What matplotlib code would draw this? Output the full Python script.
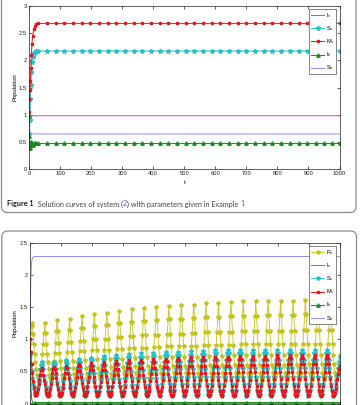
import numpy as np
import matplotlib

matplotlib.use("Agg")
import matplotlib.pyplot as plt
from matplotlib.patches import FancyBboxPatch
from matplotlib.ticker import FormatStrFormatter, MultipleLocator

plt.rcParams["font.family"] = ["Liberation Sans", "DejaVu Sans"]
plt.rcParams["mathtext.default"] = "regular"

# ---------------- Figure 1: solution converges to equilibrium ----------------
t_top_early = [0, 1.5, 3, 4.5, 6, 7.5, 9.5, 12, 15, 19, 24, 30]
t_top_late = [58, 86, 114, 142, 170, 198, 226, 253, 281, 309, 337, 365, 393,
              421, 449, 477, 505, 533, 561, 588, 616, 644, 672, 700, 728, 756,
              784, 812, 840, 868, 896, 923, 951, 976, 1000]

iv_early = [0.80, 0.86, 0.90, 0.93, 0.95, 0.96, 0.97, 0.975, 0.98, 0.98, 0.98, 0.98]
sv_early = [0.42, 0.65, 0.90, 1.28, 1.55, 1.78, 1.97, 2.07, 2.13, 2.16, 2.17, 2.17]
ms_early = [1.05, 1.28, 1.45, 1.62, 1.85, 2.10, 2.30, 2.45, 2.57, 2.64, 2.67, 2.68]
ih_early = [0.97, 0.60, 0.38, 0.42, 0.50, 0.49, 0.46, 0.45, 0.47, 0.48, 0.47, 0.47]
sh_early = [0.80, 0.74, 0.70, 0.68, 0.665, 0.658, 0.652, 0.648, 0.646, 0.645, 0.645, 0.645]
iv_eq, sv_eq, ms_eq, ih_eq, sh_eq = 0.98, 2.17, 2.68, 0.47, 0.645

# ---------------- second figure: periodic oscillations ----------------
# one row per cycle (25 cycles on t = 0..1000), 16 samples per row
pz_rows = [
    [0.95, 1.10, 1.20, 1.25, 1.09, 0.92, 0.77, 0.64, 0.54, 0.45, 0.40, 0.37, 0.40, 0.45, 0.54, 0.65],
    [0.77, 0.92, 1.10, 1.26, 1.10, 0.92, 0.77, 0.65, 0.54, 0.45, 0.40, 0.37, 0.40, 0.45, 0.55, 0.66],
    [0.79, 0.95, 1.13, 1.30, 1.13, 0.95, 0.79, 0.66, 0.55, 0.45, 0.40, 0.37, 0.40, 0.46, 0.55, 0.66],
    [0.80, 0.96, 1.15, 1.32, 1.15, 0.96, 0.80, 0.66, 0.55, 0.46, 0.40, 0.37, 0.40, 0.46, 0.56, 0.68],
    [0.82, 0.98, 1.18, 1.36, 1.18, 0.98, 0.82, 0.68, 0.56, 0.46, 0.40, 0.37, 0.40, 0.46, 0.56, 0.69],
    [0.83, 1.00, 1.21, 1.39, 1.21, 1.00, 0.83, 0.69, 0.56, 0.46, 0.40, 0.37, 0.40, 0.46, 0.57, 0.69],
    [0.84, 1.01, 1.22, 1.41, 1.22, 1.01, 0.84, 0.69, 0.57, 0.46, 0.40, 0.37, 0.40, 0.47, 0.57, 0.70],
    [0.85, 1.03, 1.25, 1.44, 1.25, 1.03, 0.85, 0.70, 0.57, 0.47, 0.40, 0.37, 0.40, 0.47, 0.58, 0.71],
    [0.86, 1.05, 1.27, 1.47, 1.27, 1.05, 0.86, 0.71, 0.58, 0.47, 0.40, 0.37, 0.40, 0.47, 0.58, 0.72],
    [0.87, 1.06, 1.29, 1.49, 1.29, 1.06, 0.87, 0.72, 0.58, 0.47, 0.40, 0.37, 0.40, 0.47, 0.59, 0.72],
    [0.88, 1.07, 1.30, 1.50, 1.30, 1.07, 0.88, 0.72, 0.59, 0.47, 0.40, 0.37, 0.40, 0.47, 0.59, 0.73],
    [0.89, 1.08, 1.31, 1.52, 1.31, 1.08, 0.89, 0.73, 0.59, 0.47, 0.40, 0.37, 0.40, 0.47, 0.59, 0.73],
    [0.89, 1.09, 1.32, 1.53, 1.32, 1.09, 0.89, 0.73, 0.59, 0.47, 0.40, 0.37, 0.41, 0.48, 0.59, 0.73],
    [0.90, 1.10, 1.33, 1.54, 1.33, 1.10, 0.90, 0.73, 0.59, 0.48, 0.41, 0.37, 0.41, 0.48, 0.60, 0.74],
    [0.91, 1.11, 1.35, 1.56, 1.35, 1.11, 0.91, 0.74, 0.60, 0.48, 0.41, 0.37, 0.41, 0.48, 0.60, 0.74],
    [0.91, 1.11, 1.35, 1.57, 1.35, 1.11, 0.91, 0.74, 0.60, 0.48, 0.41, 0.37, 0.41, 0.48, 0.60, 0.75],
    [0.91, 1.12, 1.36, 1.58, 1.36, 1.12, 0.91, 0.75, 0.60, 0.48, 0.41, 0.37, 0.41, 0.48, 0.60, 0.75],
    [0.92, 1.13, 1.37, 1.59, 1.37, 1.13, 0.92, 0.75, 0.60, 0.48, 0.41, 0.37, 0.41, 0.48, 0.60, 0.75],
    [0.92, 1.13, 1.37, 1.59, 1.37, 1.13, 0.92, 0.75, 0.60, 0.48, 0.41, 0.37, 0.41, 0.48, 0.60, 0.75],
    [0.92, 1.13, 1.38, 1.60, 1.38, 1.13, 0.92, 0.75, 0.60, 0.48, 0.41, 0.37, 0.41, 0.48, 0.60, 0.75],
    [0.92, 1.13, 1.38, 1.60, 1.38, 1.13, 0.92, 0.75, 0.60, 0.48, 0.41, 0.37, 0.41, 0.48, 0.60, 0.75],
    [0.92, 1.13, 1.38, 1.60, 1.38, 1.13, 0.92, 0.75, 0.60, 0.48, 0.41, 0.37, 0.41, 0.48, 0.61, 0.75],
    [0.93, 1.14, 1.39, 1.61, 1.39, 1.14, 0.93, 0.75, 0.61, 0.48, 0.41, 0.37, 0.41, 0.48, 0.61, 0.75],
    [0.93, 1.14, 1.39, 1.61, 1.39, 1.14, 0.93, 0.75, 0.61, 0.48, 0.41, 0.37, 0.41, 0.48, 0.61, 0.75],
    [0.93, 1.14, 1.39, 1.61, 1.39, 1.14, 0.93, 0.75, 0.61, 0.48, 0.41, 0.37, 0.41, 0.48, 0.61, 0.75],
]
sv_rows = [
    [0.75, 0.62, 0.50, 0.40, 0.31, 0.23, 0.17, 0.14, 0.14, 0.19, 0.26, 0.34, 0.43, 0.53, 0.60, 0.64],
    [0.60, 0.53, 0.43, 0.34, 0.26, 0.19, 0.14, 0.12, 0.14, 0.19, 0.26, 0.34, 0.44, 0.53, 0.61, 0.65],
    [0.61, 0.53, 0.44, 0.34, 0.26, 0.19, 0.14, 0.12, 0.14, 0.19, 0.26, 0.35, 0.45, 0.55, 0.63, 0.67],
    [0.63, 0.55, 0.45, 0.35, 0.26, 0.19, 0.14, 0.12, 0.14, 0.19, 0.27, 0.36, 0.46, 0.56, 0.65, 0.69],
    [0.65, 0.56, 0.46, 0.36, 0.27, 0.19, 0.14, 0.12, 0.14, 0.20, 0.27, 0.37, 0.47, 0.58, 0.67, 0.71],
    [0.67, 0.58, 0.47, 0.37, 0.27, 0.20, 0.14, 0.12, 0.14, 0.20, 0.28, 0.38, 0.49, 0.60, 0.70, 0.74],
    [0.70, 0.60, 0.49, 0.38, 0.28, 0.20, 0.14, 0.12, 0.15, 0.20, 0.28, 0.38, 0.50, 0.61, 0.71, 0.75],
    [0.71, 0.61, 0.50, 0.38, 0.28, 0.20, 0.15, 0.12, 0.15, 0.20, 0.29, 0.39, 0.51, 0.63, 0.72, 0.77],
    [0.72, 0.63, 0.51, 0.39, 0.29, 0.20, 0.15, 0.12, 0.15, 0.21, 0.29, 0.40, 0.52, 0.63, 0.73, 0.78],
    [0.73, 0.63, 0.52, 0.40, 0.29, 0.21, 0.15, 0.12, 0.15, 0.21, 0.29, 0.40, 0.52, 0.64, 0.74, 0.79],
    [0.74, 0.64, 0.52, 0.40, 0.29, 0.21, 0.15, 0.12, 0.15, 0.21, 0.30, 0.41, 0.53, 0.65, 0.75, 0.80],
    [0.75, 0.65, 0.53, 0.41, 0.30, 0.21, 0.15, 0.12, 0.15, 0.21, 0.30, 0.41, 0.53, 0.65, 0.75, 0.80],
    [0.75, 0.65, 0.53, 0.41, 0.30, 0.21, 0.15, 0.12, 0.15, 0.21, 0.30, 0.41, 0.53, 0.66, 0.76, 0.81],
    [0.76, 0.66, 0.53, 0.41, 0.30, 0.21, 0.15, 0.12, 0.15, 0.21, 0.30, 0.41, 0.54, 0.67, 0.77, 0.82],
    [0.77, 0.67, 0.54, 0.41, 0.30, 0.21, 0.15, 0.12, 0.15, 0.21, 0.30, 0.42, 0.55, 0.67, 0.78, 0.83],
    [0.78, 0.67, 0.55, 0.42, 0.30, 0.21, 0.15, 0.12, 0.15, 0.21, 0.30, 0.42, 0.55, 0.67, 0.78, 0.83],
    [0.78, 0.67, 0.55, 0.42, 0.30, 0.21, 0.15, 0.12, 0.15, 0.21, 0.30, 0.42, 0.55, 0.67, 0.78, 0.83],
    [0.78, 0.67, 0.55, 0.42, 0.30, 0.21, 0.15, 0.12, 0.15, 0.21, 0.31, 0.42, 0.55, 0.68, 0.79, 0.84],
    [0.79, 0.68, 0.55, 0.42, 0.31, 0.21, 0.15, 0.12, 0.15, 0.21, 0.31, 0.42, 0.55, 0.68, 0.79, 0.84],
    [0.79, 0.68, 0.55, 0.42, 0.31, 0.21, 0.15, 0.12, 0.15, 0.21, 0.31, 0.42, 0.55, 0.68, 0.79, 0.84],
    [0.79, 0.68, 0.55, 0.42, 0.31, 0.21, 0.15, 0.12, 0.15, 0.21, 0.31, 0.42, 0.55, 0.68, 0.79, 0.84],
    [0.79, 0.68, 0.55, 0.42, 0.31, 0.21, 0.15, 0.12, 0.15, 0.21, 0.31, 0.42, 0.55, 0.68, 0.79, 0.84],
    [0.79, 0.68, 0.55, 0.42, 0.31, 0.21, 0.15, 0.12, 0.15, 0.21, 0.31, 0.42, 0.55, 0.68, 0.79, 0.84],
    [0.79, 0.68, 0.55, 0.42, 0.31, 0.21, 0.15, 0.12, 0.15, 0.21, 0.31, 0.42, 0.55, 0.68, 0.79, 0.84],
    [0.79, 0.68, 0.55, 0.42, 0.31, 0.21, 0.15, 0.12, 0.14, 0.19, 0.26, 0.35, 0.45, 0.56, 0.65, 0.72],
]
ms_rows = [
    [1.00, 0.80, 0.62, 0.47, 0.35, 0.25, 0.18, 0.14, 0.13, 0.17, 0.22, 0.30, 0.37, 0.45, 0.52, 0.55],
    [0.52, 0.45, 0.37, 0.30, 0.22, 0.17, 0.13, 0.11, 0.13, 0.17, 0.23, 0.30, 0.39, 0.47, 0.54, 0.57],
    [0.54, 0.47, 0.39, 0.30, 0.23, 0.17, 0.13, 0.11, 0.13, 0.17, 0.24, 0.31, 0.40, 0.48, 0.56, 0.59],
    [0.56, 0.48, 0.40, 0.31, 0.24, 0.17, 0.13, 0.11, 0.13, 0.18, 0.24, 0.32, 0.41, 0.50, 0.58, 0.61],
    [0.58, 0.50, 0.41, 0.32, 0.24, 0.18, 0.13, 0.11, 0.13, 0.18, 0.25, 0.33, 0.42, 0.52, 0.59, 0.63],
    [0.59, 0.52, 0.42, 0.33, 0.25, 0.18, 0.13, 0.11, 0.13, 0.18, 0.25, 0.33, 0.43, 0.52, 0.60, 0.64],
    [0.60, 0.52, 0.43, 0.33, 0.25, 0.18, 0.13, 0.11, 0.13, 0.18, 0.25, 0.34, 0.44, 0.54, 0.62, 0.66],
    [0.62, 0.54, 0.44, 0.34, 0.25, 0.18, 0.13, 0.11, 0.13, 0.18, 0.26, 0.35, 0.45, 0.55, 0.63, 0.67],
    [0.63, 0.55, 0.45, 0.35, 0.26, 0.18, 0.13, 0.11, 0.13, 0.18, 0.26, 0.35, 0.45, 0.56, 0.64, 0.68],
    [0.64, 0.56, 0.45, 0.35, 0.26, 0.18, 0.13, 0.11, 0.13, 0.19, 0.26, 0.35, 0.46, 0.56, 0.65, 0.69],
    [0.65, 0.56, 0.46, 0.35, 0.26, 0.19, 0.13, 0.11, 0.13, 0.19, 0.26, 0.36, 0.46, 0.57, 0.66, 0.70],
    [0.66, 0.57, 0.46, 0.36, 0.26, 0.19, 0.13, 0.11, 0.13, 0.19, 0.27, 0.36, 0.47, 0.58, 0.67, 0.71],
    [0.67, 0.58, 0.47, 0.36, 0.27, 0.19, 0.13, 0.11, 0.13, 0.19, 0.27, 0.37, 0.48, 0.59, 0.68, 0.72],
    [0.68, 0.59, 0.48, 0.37, 0.27, 0.19, 0.13, 0.11, 0.13, 0.19, 0.27, 0.37, 0.48, 0.59, 0.68, 0.72],
    [0.68, 0.59, 0.48, 0.37, 0.27, 0.19, 0.13, 0.11, 0.14, 0.19, 0.27, 0.37, 0.48, 0.59, 0.69, 0.73],
    [0.69, 0.59, 0.48, 0.37, 0.27, 0.19, 0.14, 0.11, 0.14, 0.19, 0.27, 0.37, 0.48, 0.59, 0.69, 0.73],
    [0.69, 0.59, 0.48, 0.37, 0.27, 0.19, 0.14, 0.11, 0.14, 0.19, 0.27, 0.37, 0.49, 0.60, 0.70, 0.74],
    [0.70, 0.60, 0.49, 0.37, 0.27, 0.19, 0.14, 0.11, 0.14, 0.19, 0.27, 0.37, 0.49, 0.60, 0.70, 0.74],
    [0.70, 0.60, 0.49, 0.37, 0.27, 0.19, 0.14, 0.11, 0.14, 0.19, 0.27, 0.37, 0.49, 0.60, 0.70, 0.74],
    [0.70, 0.60, 0.49, 0.37, 0.27, 0.19, 0.14, 0.11, 0.14, 0.19, 0.28, 0.38, 0.49, 0.61, 0.71, 0.75],
    [0.71, 0.61, 0.49, 0.38, 0.28, 0.19, 0.14, 0.11, 0.14, 0.19, 0.28, 0.38, 0.49, 0.61, 0.71, 0.75],
    [0.71, 0.61, 0.49, 0.38, 0.28, 0.19, 0.14, 0.11, 0.14, 0.19, 0.28, 0.38, 0.49, 0.61, 0.71, 0.75],
    [0.71, 0.61, 0.49, 0.38, 0.28, 0.19, 0.14, 0.11, 0.14, 0.19, 0.28, 0.38, 0.49, 0.61, 0.71, 0.75],
    [0.71, 0.61, 0.49, 0.38, 0.28, 0.19, 0.14, 0.11, 0.14, 0.19, 0.28, 0.38, 0.49, 0.61, 0.71, 0.75],
    [0.71, 0.61, 0.49, 0.38, 0.28, 0.19, 0.14, 0.11, 0.13, 0.17, 0.23, 0.30, 0.38, 0.46, 0.53, 0.58],
]
ih_osc_early = [0.70, 0.30, 0.08, 0.03]
ih_osc_eq = 0.015
sh_osc_early = [1.20, 1.90, 2.20, 2.26, 2.28, 2.285]
sh_osc_eq = 2.29
iv_osc_eq = 0.01

t_osc = np.linspace(0, 1000, 400)
pz = np.ravel(pz_rows)
sv2 = np.ravel(sv_rows)
ms2 = np.ravel(ms_rows)
n_osc = len(t_osc)
ih2 = ih_osc_early + [ih_osc_eq] * (n_osc - len(ih_osc_early))
sh2 = sh_osc_early + [sh_osc_eq] * (n_osc - len(sh_osc_early))
iv2 = [iv_osc_eq] * n_osc

t_top = t_top_early + t_top_late
n_late = len(t_top_late)
iv1 = iv_early + [iv_eq] * n_late
sv1 = sv_early + [sv_eq] * n_late
ms1 = ms_early + [ms_eq] * n_late
ih1 = ih_early + [ih_eq] * n_late
sh1 = sh_early + [sh_eq] * n_late

C_Y = "#c4c41c"
C_M = "#b64fc8"
C_C = "#22c2c8"
C_R = "#e8161b"
C_G = "#168c1e"
C_L = "#8f8ff0"

lab = {k: k[0] + r"$_\mathregular{" + k[1] + "}$" for k in
       ["Pz", "Iv", "Sv", "Ms", "Ih", "Sh"]}

W, H = 362, 405
fig = plt.figure(figsize=(W / 100, H / 100), dpi=100)

# rounded panel frames (pixel coordinates)
bg = fig.add_axes([0, 0, 1, 1], zorder=-5)
bg.set_xlim(0, W)
bg.set_ylim(H, 0)
bg.axis("off")
for x0, y0, w, h in [(1.5, -20, 354.5, 232.5), (1.8, 231, 354.7, 200)]:
    bg.add_patch(FancyBboxPatch((x0, y0), w, h,
                                boxstyle="round,pad=0,rounding_size=6",
                                fc="none", ec="#8c8c8c", lw=0.9))


def style(ax):
    ax.set_xlim(0, 1000)
    ax.xaxis.set_major_locator(MultipleLocator(100))
    ax.yaxis.set_major_locator(MultipleLocator(0.5))
    ax.yaxis.set_major_formatter(FormatStrFormatter("%g"))
    ax.tick_params(direction="in", length=2, width=0.5, labelsize=4.2,
                   top=True, right=True, pad=1.5, colors="#222222")
    for s in ax.spines.values():
        s.set_linewidth(0.5)
        s.set_color("#222222")
    ax.set_ylabel("Population", fontsize=4.2)
    ax.yaxis.set_label_coords(-0.038, 0.5)


leg_kw = dict(loc="upper right", fontsize=4, numpoints=1, handlelength=2.3,
              handletextpad=0.3, labelspacing=0.75, borderpad=0.35,
              borderaxespad=0.6, fancybox=False, framealpha=1,
              edgecolor="#555555")

# top panel
ax1 = fig.add_axes([29 / W, 1 - 169 / H, 310.5 / W, 163 / H])
lw = 0.7
ax1.plot(t_top, iv1, color=C_M, lw=lw, label=lab["Iv"])
ax1.plot(t_top, sv1, color=C_C, lw=lw, marker="*", ms=3.2, label=lab["Sv"])
ax1.plot(t_top, ms1, color=C_R, lw=lw, marker="s", ms=2, label=lab["Ms"])
ax1.plot(t_top, ih1, color=C_G, lw=lw, marker="^", ms=2.4, label=lab["Ih"])
ax1.plot(t_top, sh1, color=C_L, lw=lw, label=lab["Sh"])
ax1.set_ylim(0, 3)
style(ax1)
ax1.set_xlabel("t", fontsize=4.5)
ax1.xaxis.set_label_coords(0.5, -0.065)
ax1.legend(**leg_kw).get_frame().set_linewidth(0.5)

# bottom panel (its x tick labels fall below the visible area)
ax2 = fig.add_axes([30 / W, 1 - 403.5 / H, 309.5 / W, 160.5 / H])
ax2.plot(t_osc, pz, color=C_Y, lw=0.6, marker="*", ms=3.0, label=lab["Pz"])
ax2.plot(t_osc, iv2, color=C_M, lw=lw, label=lab["Iv"])
ax2.plot(t_osc, sv2, color=C_C, lw=0.6, marker="*", ms=3.0, label=lab["Sv"])
ax2.plot(t_osc, ms2, color=C_R, lw=0.7, marker="s", ms=2.0, label=lab["Ms"])
ax2.plot(t_osc, ih2, color=C_G, lw=lw, marker="^", ms=2.4, markevery=(7, 16),
         label=lab["Ih"])
ax2.plot(t_osc, sh2, color=C_L, lw=lw, label=lab["Sh"])
ax2.set_ylim(0, 2.5)
style(ax2)
ax2.tick_params(labelbottom=False)
ax2.yaxis.set_label_coords(-0.04, 0.5)
ax2.legend(**leg_kw).get_frame().set_linewidth(0.5)

# caption, placed piece by piece
renderer = fig.canvas.get_renderer()
cap = [("Figure 1", "#1a1a1a", "bold"),
       ("  Solution curves of system (", "#444444", "normal"),
       ("2", "#5a63c0", "normal"),
       (") with parameters given in Example ", "#444444", "normal"),
       ("1", "#5a63c0", "normal")]
cx = 7 / W
for txt, col, wt in cap:
    tt = fig.text(cx, 1 - 204 / H, txt, color=col, fontweight=wt,
                  fontsize=5.2, va="center", ha="left", family="Lato")
    cx += tt.get_window_extent(renderer).width / W

fig.savefig("out.png", dpi=100)
